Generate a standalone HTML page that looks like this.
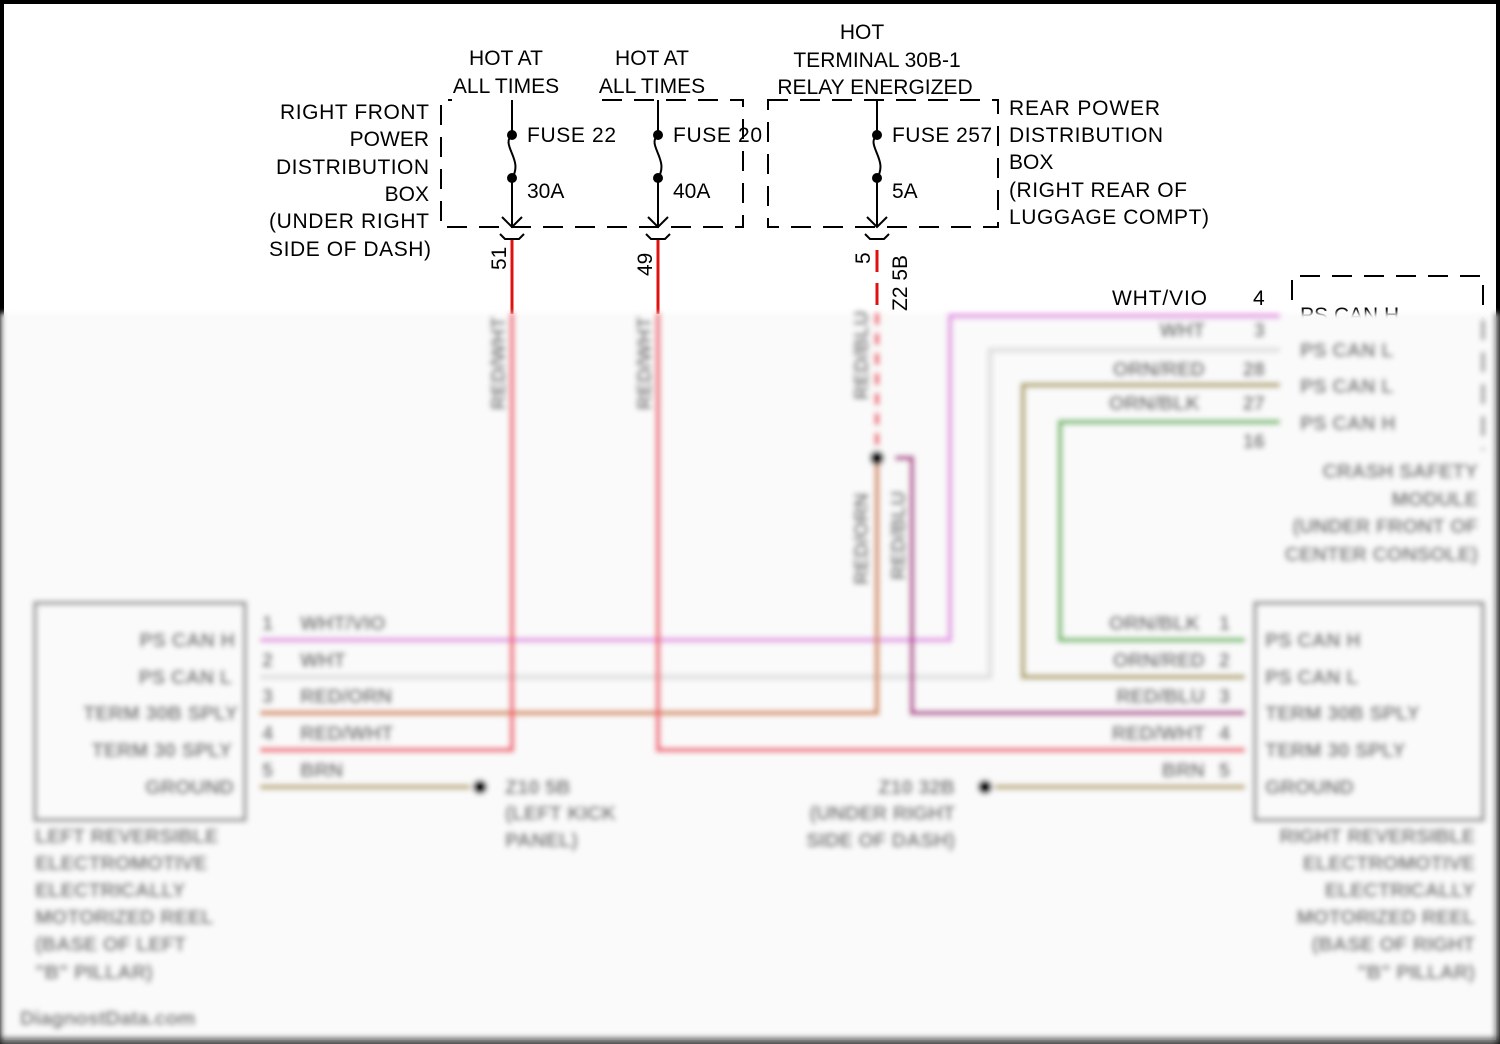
<!DOCTYPE html>
<html><head><meta charset="utf-8"><style>
html,body{margin:0;padding:0;background:#fff}
svg{display:block}
text{font-family:"Liberation Sans",Arial,sans-serif}
</style></head><body>
<svg width="1500" height="1044" viewBox="0 0 1500 1044" xmlns="http://www.w3.org/2000/svg">
<defs>
<filter id="b" x="-5%" y="-5%" width="110%" height="110%"><feGaussianBlur stdDeviation="2.6"/></filter>
</defs>
<rect x="0" y="0" width="1500" height="1044" fill="#fff"/>
<rect x="2" y="2" width="1496" height="1040" fill="none" stroke="#000" stroke-width="4"/>

<g font-size="21" fill="#000">
<text x="506" y="65" text-anchor="middle">HOT AT</text>
<text x="506" y="93" text-anchor="middle">ALL TIMES</text>
<text x="652" y="65" text-anchor="middle">HOT AT</text>
<text x="652" y="93" text-anchor="middle">ALL TIMES</text>
<text x="862" y="39" text-anchor="middle">HOT</text>
<text x="877" y="67" text-anchor="middle">TERMINAL 30B-1</text>
<text x="875" y="94" text-anchor="middle">RELAY ENERGIZED</text>
<g text-anchor="end">
<text x="429" y="119" textLength="149">RIGHT FRONT</text>
<text x="429" y="146">POWER</text>
<text x="429" y="174" textLength="153">DISTRIBUTION</text>
<text x="429" y="201">BOX</text>
<text x="429" y="228" textLength="160">(UNDER RIGHT</text>
<text x="431" y="256" textLength="162">SIDE OF DASH)</text>
</g>
<text x="1009" y="115" textLength="151">REAR POWER</text>
<text x="1009" y="142" textLength="154">DISTRIBUTION</text>
<text x="1009" y="169">BOX</text>
<text x="1009" y="197" textLength="178">(RIGHT REAR OF</text>
<text x="1009" y="224" textLength="200">LUGGAGE COMPT)</text>
<text x="527" y="142" textLength="89">FUSE 22</text>
<text x="527" y="198">30A</text>
<text x="673" y="142" textLength="89">FUSE 20</text>
<text x="673" y="198">40A</text>
<text x="892" y="142" textLength="100">FUSE 257</text>
<text x="892" y="198">5A</text>
<text x="1112" y="305" textLength="95">WHT/VIO</text>
<text x="1253" y="305">4</text>
<text transform="translate(506,270) rotate(-90)">51</text>
<text transform="translate(652,276) rotate(-90)">49</text>
<text transform="translate(870,264) rotate(-90)">5</text>
<text transform="translate(907,311) rotate(-90)">Z2 5B</text>
</g>
<g fill="none" stroke="#000" stroke-width="2" stroke-dasharray="20,12">
<path d="M570 100 H743 V227 H441 V100 H452"/>
<path d="M768 100 H998 V227 H768 Z"/>
<path d="M1292 300 V276 H1483 V320"/>
</g>
<rect x="560" y="92" width="30" height="12" fill="#fff"/>
<g fill="none" stroke="#000" stroke-width="2">
<path d="M512 100 V135 C500 145 524 160 512 178 V227 M502 217 L512 227 L522 217"/>
<path d="M658 100 V135 C646 145 670 160 658 178 V227 M648 217 L658 227 L668 217"/>
<path d="M877 100 V135 C865 145 889 160 877 178 V227 M867 217 L877 227 L887 217"/>
<path d="M500 234 l5 5 h14 l5 -5 M646 234 l5 5 h14 l5 -5 M865 234 l5 5 h14 l5 -5"/>
</g>
<g fill="#000"><circle cx="512" cy="135" r="5"/><circle cx="512" cy="178" r="5"/>
<circle cx="658" cy="135" r="5"/><circle cx="658" cy="178" r="5"/>
<circle cx="877" cy="135" r="5"/><circle cx="877" cy="178" r="5"/></g>
<g stroke="#e01010" stroke-width="3" fill="none">
<path d="M512 240 V314"/><path d="M658 240 V314"/>
<path d="M877 250 V272 M877 283 V305"/>
</g>
<text x="1300" y="322" font-size="21" fill="#000">PS CAN H</text>

<g filter="url(#b)">
<rect x="0" y="313" width="1500" height="731" fill="#fafafa"/>
<path d="M0 313 V1044" stroke="#333" stroke-width="5"/>
<path d="M1497 313 V1044" stroke="#555" stroke-width="5"/>
<path d="M0 1040 H1500" stroke="#555" stroke-width="6"/>
<g fill="none" stroke-width="5">
<path d="M1280 316 H950 V640 H260" stroke="#e6a0e6"/>
<path d="M1280 350 H990 V677 H260" stroke="#e0e0e0"/>
<path d="M1280 385 H1023 V677 H1245" stroke="#b5aa70"/>
<path d="M1280 422 H1060 V640 H1245" stroke="#7cc070"/>
<path d="M877 458 V713 H260" stroke="#d8905f"/>
<path d="M895 458 H912 V713 H1245" stroke="#b84a98"/>
<path d="M512 313 V750 H260" stroke="#f06a78"/>
<path d="M658 313 V750 H1245" stroke="#f06a78"/>
<path d="M877 313 V450" stroke="#f06070" stroke-dasharray="12,8"/>
<path d="M260 787 H470" stroke="#c0ad78"/>
<path d="M995 787 H1245" stroke="#c0ad78"/>
</g>
<g fill="#000"><circle cx="877" cy="458" r="7"/><circle cx="480" cy="787" r="7"/><circle cx="985" cy="787" r="7"/></g>
<g fill="none" stroke="#999" stroke-width="4">
<rect x="35" y="603" width="210" height="217"/>
<rect x="1255" y="603" width="228" height="217"/>
<path d="M1483 320 V450" stroke-dasharray="20,12"/>
</g>
<g font-size="20" font-weight="bold" fill="#666">
<g text-anchor="end">
<text x="235" y="647">PS CAN H</text>
<text x="232" y="684">PS CAN L</text>
<text x="238" y="720">TERM 30B SPLY</text>
<text x="232" y="757">TERM 30 SPLY</text>
<text x="234" y="794">GROUND</text>
<text x="1205" y="337">WHT</text>
<text x="1205" y="376">ORN/RED</text>
<text x="1200" y="410">ORN/BLK</text>
<text x="1265" y="337">3</text><text x="1265" y="376">28</text><text x="1265" y="410">27</text><text x="1265" y="448">16</text>
<text x="1478" y="478">CRASH SAFETY</text>
<text x="1478" y="506">MODULE</text>
<text x="1478" y="533">(UNDER FRONT OF</text>
<text x="1478" y="561">CENTER CONSOLE)</text>
<text x="1200" y="630">ORN/BLK</text><text x="1230" y="630">1</text>
<text x="1205" y="667">ORN/RED</text><text x="1230" y="667">2</text>
<text x="1205" y="703">RED/BLU</text><text x="1230" y="703">3</text>
<text x="1205" y="740">RED/WHT</text><text x="1230" y="740">4</text>
<text x="1205" y="777">BRN</text><text x="1230" y="777">5</text>
<text x="955" y="794">Z10 32B</text>
<text x="955" y="820">(UNDER RIGHT</text>
<text x="955" y="847">SIDE OF DASH)</text>
<text x="1475" y="843">RIGHT REVERSIBLE</text>
<text x="1475" y="870">ELECTROMOTIVE</text>
<text x="1475" y="897">ELECTRICALLY</text>
<text x="1475" y="924">MOTORIZED REEL</text>
<text x="1475" y="951">(BASE OF RIGHT</text>
<text x="1475" y="979">"B" PILLAR)</text>
</g>
<text x="1300" y="357">PS CAN L</text>
<text x="1300" y="393">PS CAN L</text>
<text x="1300" y="430">PS CAN H</text>
<text x="1265" y="647">PS CAN H</text>
<text x="1265" y="684">PS CAN L</text>
<text x="1265" y="720">TERM 30B SPLY</text>
<text x="1265" y="757">TERM 30 SPLY</text>
<text x="1265" y="794">GROUND</text>
<text x="262" y="630">1</text><text x="300" y="630">WHT/VIO</text>
<text x="262" y="667">2</text><text x="300" y="667">WHT</text>
<text x="262" y="703">3</text><text x="300" y="703">RED/ORN</text>
<text x="262" y="740">4</text><text x="300" y="740">RED/WHT</text>
<text x="262" y="777">5</text><text x="300" y="777">BRN</text>
<text x="505" y="794">Z10 5B</text>
<text x="505" y="820">(LEFT KICK</text>
<text x="505" y="847">PANEL)</text>
<text x="35" y="843">LEFT REVERSIBLE</text>
<text x="35" y="870">ELECTROMOTIVE</text>
<text x="35" y="897">ELECTRICALLY</text>
<text x="35" y="924">MOTORIZED REEL</text>
<text x="35" y="951">(BASE OF LEFT</text>
<text x="35" y="979">"B" PILLAR)</text>
<text x="20" y="1025">DiagnostData.com</text>
<text transform="translate(505,410) rotate(-90)">RED/WHT</text>
<text transform="translate(651,410) rotate(-90)">RED/WHT</text>
<text transform="translate(868,400) rotate(-90)">RED/BLU</text>
<text transform="translate(868,585) rotate(-90)">RED/ORN</text>
<text transform="translate(905,580) rotate(-90)">RED/BLU</text>
</g>
</g>
</svg>
</body></html>
